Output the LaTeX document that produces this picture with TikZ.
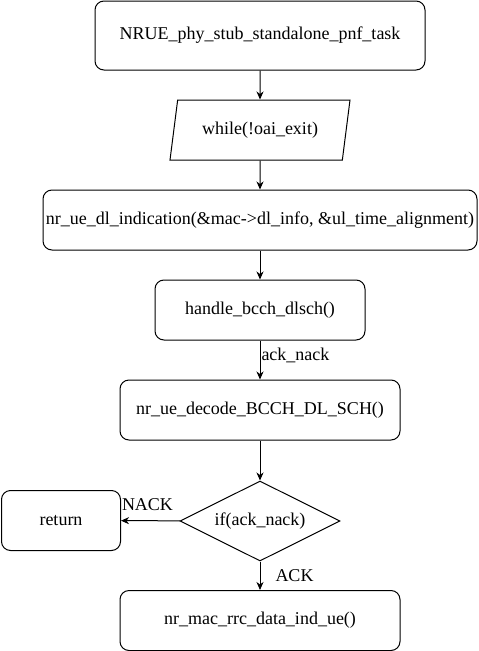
\documentclass[tikz,border=0pt]{standalone}
\usepackage{fontspec}
\setmainfont{Liberation Serif}
\usetikzlibrary{shapes.geometric,arrows.meta}

\begin{document}
\begin{tikzpicture}[x=1pt,y=-1pt,
    every node/.style={font=\fontsize{18}{21}\selectfont},
    boite/.style={draw, line width=1pt, rounded corners=9pt, minimum height=60pt, inner sep=0pt},
    fleche/.style={-{Stealth[length=8pt,width=7pt,inset=2.5pt]}, line width=1pt}]

\useasboundingbox (0,0) rectangle (479,651);

% les blocs du flot
\node[boite, minimum width=330pt, minimum height=69pt] (start) at (260,35.5) {NRUE\_phy\_stub\_standalone\_pnf\_task};
\node[draw, line width=1pt, trapezium, trapezium left angle=71.57, trapezium right angle=108.43,
      trapezium stretches body, minimum width=180pt, minimum height=60pt] (loop) at (260,130) {while(!oai\_exit)};
\node[boite, minimum width=434pt] (ind) at (260,220) {nr\_ue\_dl\_indication(\&mac->dl\_info, \&ul\_time\_alignment)};
\node[boite, minimum width=210pt] (bcch) at (260,310) {handle\_bcch\_dlsch()};
\node[boite, minimum width=280pt] (decode) at (260,410) {nr\_ue\_decode\_BCCH\_DL\_SCH()};
\node[draw, line width=1pt, diamond, aspect=2, inner sep=0pt, minimum width=160pt, minimum height=80pt] (check) at (260,521) {if(ack\_nack)};
\node[boite, minimum width=119pt] (ret) at (61,520.5) {return};
\node[boite, minimum width=280pt] (rrc) at (260,620.5) {nr\_mac\_rrc\_data\_ind\_ue()};

% les fleches
\draw[fleche] (start) -- (loop);
\draw[fleche] (loop) -- (ind);
\draw[fleche] (ind) -- (bcch);
\draw[fleche] (bcch) -- node[pos=.38, right=1pt, inner sep=0pt] (lblack) {ack\_nack} (decode);
\draw[fleche] (decode) -- (check);
\draw[fleche] (check) -- node[pos=.55, above=10pt, inner sep=0pt] (lblnack) {NACK} (ret);
\draw[fleche] (check) -- node[pos=.5, right=15pt, inner sep=0pt] (lblok) {ACK} (rrc);

\end{tikzpicture}
\end{document}
